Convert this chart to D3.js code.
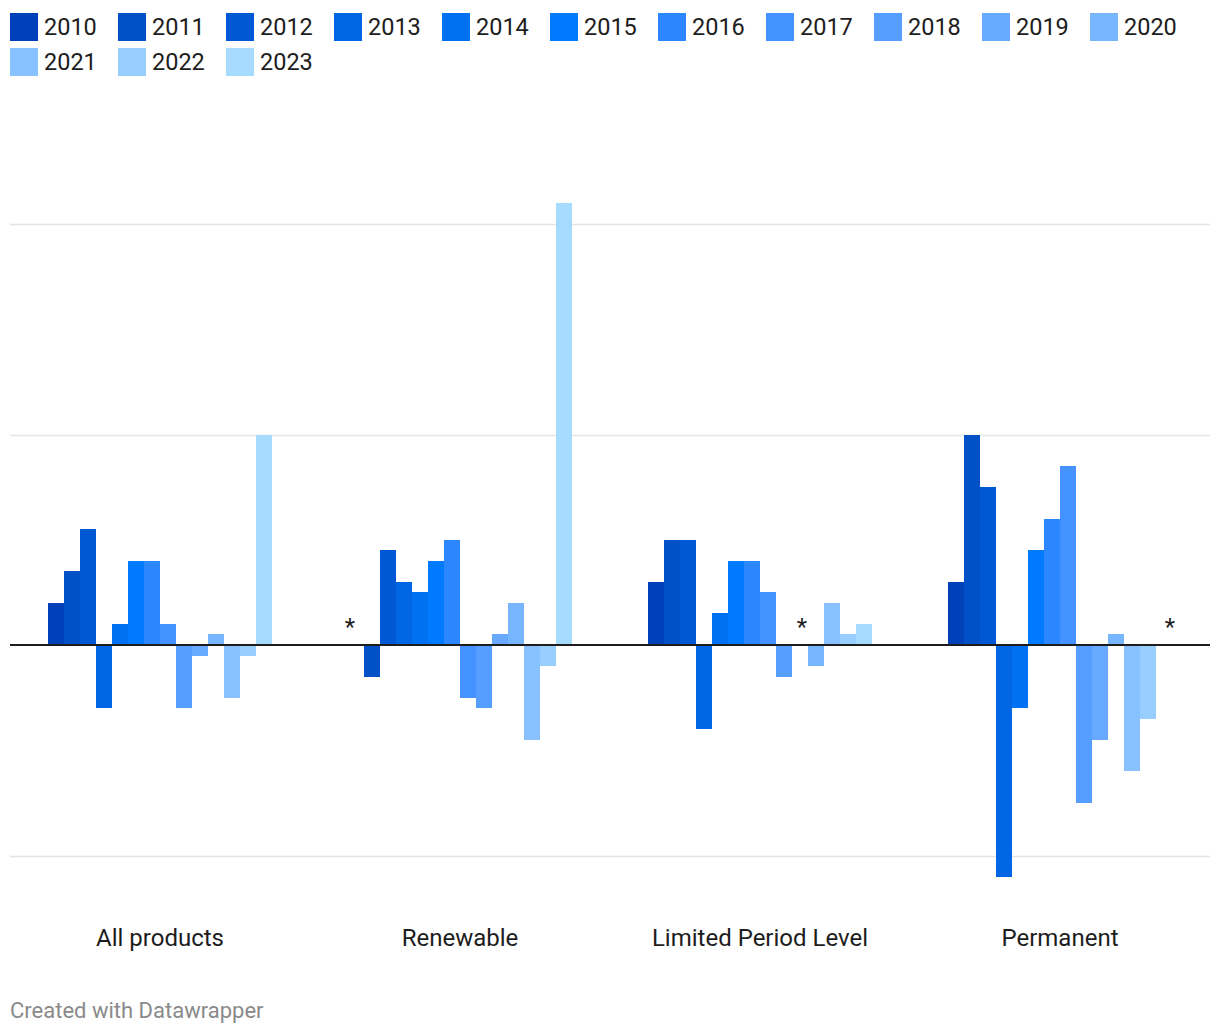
<!DOCTYPE html>
<html>
<head>
<meta charset="utf-8">
<script src="https://cdn.jsdelivr.net/npm/d3@7"></script>
<style>
  html, body { margin: 0; padding: 0; background: #fff; }
  svg { display: block; font-family: Roboto, "Noto Sans", sans-serif; }
</style>
</head>
<body>
<svg id="chart" width="1220" height="1036"></svg>
<script>
// ---- data ----
const categories = ["All products", "Renewable", "Limited Period Level", "Permanent"];
const years = ["2010","2011","2012","2013","2014","2015","2016","2017","2018","2019","2020","2021","2022","2023"];
const allProducts = [2.0, 3.5, 5.5, -3.0, 1.0, 4.0, 4.0, 1.0, -3.0, -0.5, 0.5, -2.5, -0.5, 10.0];
const renewable   = [null, -1.5, 4.5, 3.0, 2.5, 4.0, 5.0, -2.5, -3.0, 0.5, 2.0, -4.5, -1.0, 21.0];
const limitedPeriod = [3.0, 5.0, 5.0, -4.0, 1.5, 4.0, 4.0, 2.5, -1.5, null, -1.0, 2.0, 0.5, 1.0];
const permanent   = [3.0, 10.0, 7.5, -11.0, -3.0, 4.5, 6.0, 8.5, -7.5, -4.5, 0.5, -6.0, -3.5, null];
const seriesByCategory = [allProducts, renewable, limitedPeriod, permanent];
const yGridTicks = [-10, 0, 10, 20];
const colors = ["#0040b9","#0050c8","#0058d4","#0066e3","#0071f0","#007bff","#2c87ff","#4492ff","#559dff","#67a9ff","#77b5ff","#87c1ff","#97cdff","#a6dbff"];
// missing-value markers: category, year, small horizontal nudge
const missingMarks = [
  {cat: "Renewable", year: "2010", nudge: -6},
  {cat: "Limited Period Level", year: "2019", nudge: 2},
  {cat: "Permanent", year: "2023", nudge: 6}
];

// ---- layout ----
const svg = d3.select("#chart");
const plotLeft = 10, plotRight = 1210;
const font = 'Roboto, "Noto Sans", sans-serif';

const x0 = d3.scaleBand().domain(categories).range([plotLeft, plotRight]).padding(0);
const x1 = d3.scaleBand().domain(years).range([0, x0.bandwidth()]).paddingInner(0).paddingOuter(2.375);
const y = d3.scaleLinear().domain([-10, 20]).range([855.5, 224]);

// gridlines
svg.append("g").selectAll("line").data(yGridTicks.filter(d => d !== 0)).join("line")
  .attr("x1", plotLeft).attr("x2", plotRight)
  .attr("y1", d => Math.round(y(d)) + 0.5).attr("y2", d => Math.round(y(d)) + 0.5)
  .attr("stroke", "#e4e4e4").attr("stroke-width", 1.6);

// bars
const rows = [];
categories.forEach((c, ci) => {
  years.forEach((yr, yi) => {
    const v = seriesByCategory[ci][yi];
    if (v !== null) rows.push({cat: c, year: yr, value: v, color: colors[yi]});
  });
});
svg.append("g").selectAll("rect").data(rows).join("rect")
  .attr("x", d => x0(d.cat) + x1(d.year))
  .attr("width", x1.bandwidth() + 0.3)
  .attr("y", d => y(Math.max(0, d.value)))
  .attr("height", d => Math.abs(y(d.value) - y(0)))
  .attr("fill", d => d.color)
  .attr("shape-rendering", "crispEdges");

// zero line
svg.append("line")
  .attr("x1", plotLeft).attr("x2", plotRight)
  .attr("y1", y(0)).attr("y2", y(0))
  .attr("stroke", "#1d1d1d").attr("stroke-width", 2);

// missing markers
svg.append("g").selectAll("text").data(missingMarks).join("text")
  .attr("x", d => x0(d.cat) + x1(d.year) + x1.bandwidth() / 2 + d.nudge)
  .attr("y", y(0) - 10)
  .attr("text-anchor", "middle")
  .attr("font-family", font).attr("font-size", 24).attr("fill", "#1d1d1d")
  .text("*");

// category labels
svg.append("g").selectAll("text").data(categories).join("text")
  .attr("x", d => x0(d) + x0.bandwidth() / 2)
  .attr("y", 946)
  .attr("text-anchor", "middle")
  .attr("font-family", font).attr("font-size", 24).attr("fill", "#1d1d1d")
  .text(d => d);

// legend
const perRow = 11, itemW = 108;
const legend = svg.append("g").selectAll("g").data(years).join("g")
  .attr("transform", (d, i) => `translate(${10 + (i % perRow) * itemW}, ${13 + Math.floor(i / perRow) * 35})`);
legend.append("rect").attr("width", 28).attr("height", 28).attr("fill", (d, i) => colors[i]);
legend.append("text").attr("x", 34).attr("y", 22)
  .attr("font-family", font).attr("font-size", 23.5).attr("fill", "#1d1d1d")
  .text(d => d);

// footer
svg.append("text").attr("x", 10).attr("y", 1018)
  .attr("font-family", font).attr("font-size", 22).attr("fill", "#8a8a8a")
  .text("Created with Datawrapper");
</script>
</body>
</html>
